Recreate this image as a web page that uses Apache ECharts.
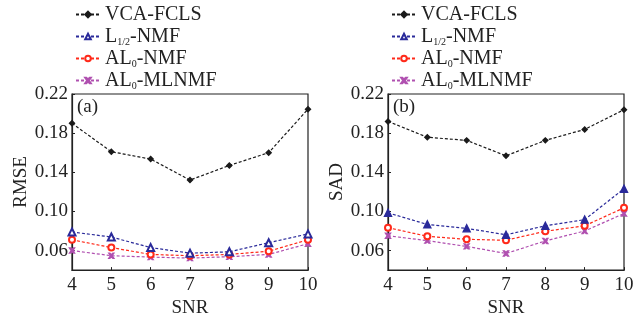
<!DOCTYPE html>
<html><head><meta charset="utf-8">
<script src="https://cdn.jsdelivr.net/npm/echarts@6/dist/echarts.min.js"></script>
<style>html,body{margin:0;padding:0;background:#fff}#c{width:643px;height:323px}</style>
</head><body><div id="c"></div>
<script>
const snr = [4, 5, 6, 7, 8, 9, 10];
const seriesNames = ['VCA-FCLS', 'L1/2-NMF', 'AL0-NMF', 'AL0-MLNMF'];
const yTicks = [0.06, 0.10, 0.14, 0.18, 0.22];
// (a) RMSE
const rmseVCA   = [0.190, 0.161, 0.1535, 0.132, 0.147, 0.160, 0.2045];
const rmseL12   = [0.079, 0.0738, 0.063, 0.0573, 0.0587, 0.068, 0.077];
const rmseAL0   = [0.071, 0.063, 0.056, 0.0547, 0.056, 0.0593, 0.071];
const rmseML    = [0.060, 0.0547, 0.0533, 0.0523, 0.0537, 0.056, 0.067];
// (b) SAD
const sadVCA    = [0.192, 0.1758, 0.1726, 0.1568, 0.1726, 0.1838, 0.204];
const sadL12    = [0.0985, 0.0867, 0.0827, 0.0761, 0.0853, 0.0916, 0.1232];
const sadAL0    = [0.0834, 0.0745, 0.0715, 0.0705, 0.0797, 0.0853, 0.1037];
const sadML     = [0.0751, 0.0701, 0.0642, 0.0570, 0.0698, 0.0800, 0.0978];

const FONT = "'Liberation Serif','Times New Roman',serif";
const colors = ['#1a1a1a', '#2a2a9a', '#ff2a1a', '#b050b0'];
const xMark = 'path://M0,0L2,0L5,3L8,0L10,0L6.5,5L10,10L8,10L5,7L2,10L0,10L3.5,5Z';
const symbolsA = ['diamond', 'emptyTriangle', 'emptyCircle', xMark];
const symbolsB = ['diamond', 'triangle', 'emptyCircle', xMark];
const sizes = [5, 7, 6, 5];

function pairs(vals) { return snr.map((x, i) => [x, vals[i]]); }

const richSub = {
  sub: { fontSize: 10, fontFamily: FONT, color: '#222', verticalAlign: 'bottom', lineHeight: 10 }
};
function legendFmt(n) {
  if (n === 'L1/2-NMF') return 'L{sub|1/2}-NMF';
  if (n === 'AL0-NMF') return 'AL{sub|0}-NMF';
  if (n === 'AL0-MLNMF') return 'AL{sub|0}-MLNMF';
  return n;
}
function mkLegend(left) {
  return {
    orient: 'vertical', left: left, top: 4, padding: 0, itemWidth: 24, itemHeight: 7, itemGap: 1,
    data: seriesNames,
    formatter: legendFmt,
    textStyle: { fontFamily: FONT, fontSize: 20, color: '#222', lineHeight: 21, rich: richSub }
  };
}
function mkGrid(left) {
  return { left: left, top: 94, width: 236, height: 183, show: true, borderColor: '#222', borderWidth: 1.2, backgroundColor: 'transparent' };
}
function mkX(idx) {
  return {
    type: 'value', gridIndex: idx, min: 4, max: 10, interval: 1,
    name: 'SNR', nameLocation: 'middle', nameGap: 25,
    nameTextStyle: { fontFamily: FONT, fontSize: 19, color: '#222' },
    axisLine: { show: true, onZero: false, lineStyle: { color: '#222', width: 1.2 } },
    axisTick: { show: true, inside: true, length: 3, lineStyle: { color: '#222' } },
    axisLabel: { fontFamily: FONT, fontSize: 19, color: '#222', margin: 5 },
    splitLine: { show: false }
  };
}
function mkY(idx, name) {
  return {
    type: 'value', gridIndex: idx, min: 0.04, max: 0.22,
    name: name, nameLocation: 'middle', nameGap: 37,
    nameTextStyle: { fontFamily: FONT, fontSize: 19, color: '#222' },
    axisLine: { show: true, onZero: false, lineStyle: { color: '#222', width: 1.2 } },
    axisTick: { show: true, inside: true, length: 3, customValues: yTicks, lineStyle: { color: '#222' } },
    axisLabel: { fontFamily: FONT, fontSize: 19, color: '#222', margin: 4, customValues: yTicks, formatter: v => v.toFixed(2) },
    splitLine: { show: false }
  };
}
function mkSeries(idx, arrs, syms) {
  return arrs.map((vals, k) => ({
    type: 'line', name: seriesNames[k], xAxisIndex: idx, yAxisIndex: idx,
    data: pairs(vals), symbol: syms[k], symbolSize: sizes[k], showAllSymbol: true,
    color: colors[k],
    lineStyle: { color: colors[k], width: 1.2, type: [3, 2] },
    itemStyle: { color: colors[k], borderColor: colors[k], borderWidth: 1.4 },
    emphasis: { disabled: true }, animation: false, z: 10 - k
  }));
}

const chart = echarts.init(document.getElementById('c'), null, { renderer: 'canvas' });
chart.setOption({
  animation: false,
  backgroundColor: '#fff',
  legend: [mkLegend(75), mkLegend(391)],
  grid: [mkGrid(72), mkGrid(388)],
  xAxis: [mkX(0), mkX(1)],
  yAxis: [mkY(0, 'RMSE'), mkY(1, 'SAD')],
  series: [
    ...mkSeries(0, [rmseVCA, rmseL12, rmseAL0, rmseML], symbolsA),
    ...mkSeries(1, [sadVCA, sadL12, sadAL0, sadML], symbolsB)
  ],
  graphic: [
    { type: 'text', left: 77, top: 98, style: { text: '(a)', fontFamily: FONT, fontSize: 19, fill: '#222' } },
    { type: 'text', left: 393, top: 98, style: { text: '(b)', fontFamily: FONT, fontSize: 19, fill: '#222' } }
  ]
});
</script></body></html>
